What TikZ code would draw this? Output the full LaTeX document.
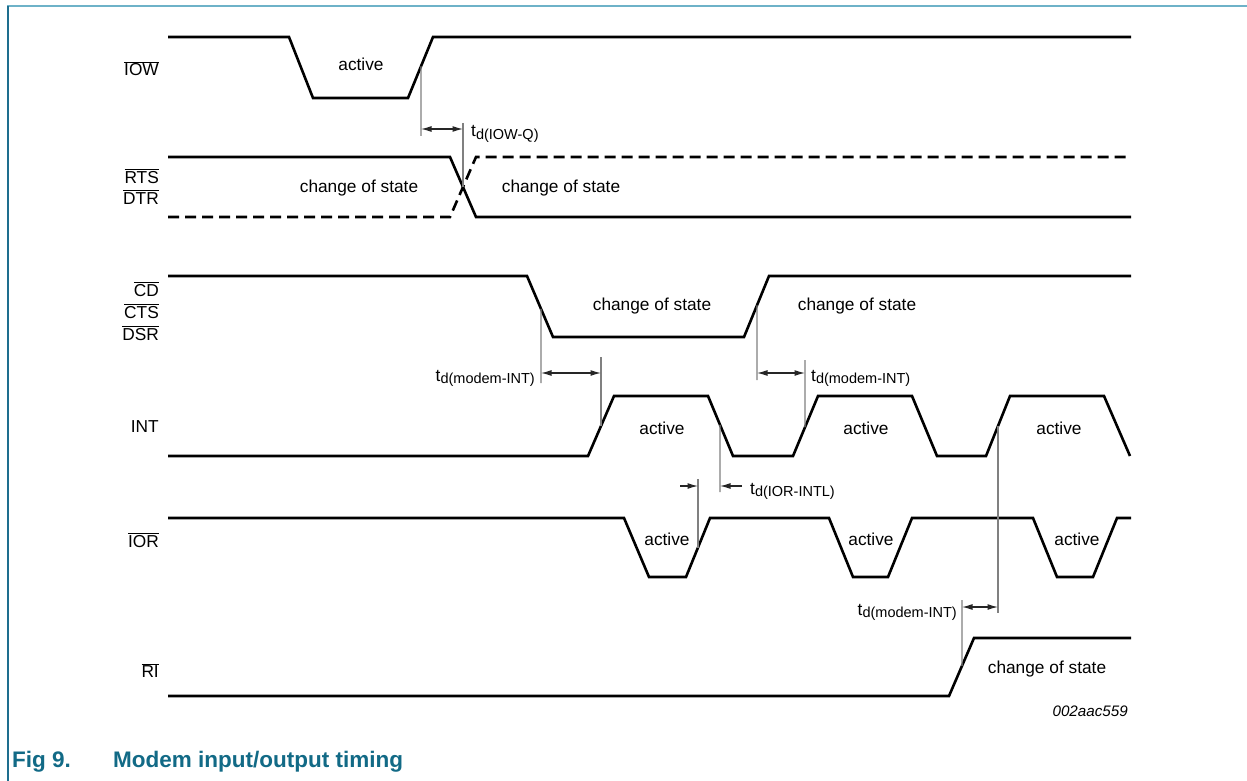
\documentclass[tikz,border=0pt]{standalone}
\usepackage{fontspec}
\setmainfont{Liberation Sans}
\usetikzlibrary{arrows.meta}
\definecolor{capteal}{RGB}{18,106,134}
\definecolor{framelight}{RGB}{110,178,200}
\definecolor{framedark}{RGB}{30,110,142}
\newcommand{\ovl}[1]{$\overline{\mbox{#1}}$}
\newcommand{\tdly}[1]{t\raisebox{-2.5pt}{\fontsize{14.5}{16}\selectfont d(#1)}}
\tikzset{
	wave/.style={line width=2.6pt},
	dwave/.style={wave, dash pattern=on 11pt off 6pt},
	tline/.style={line width=1.1pt, black!50},
	tarr/.style={line width=1.2pt, black!85, {Latex[length=10.5pt,width=6pt]}-{Latex[length=10.5pt,width=6pt]}},
	oarr/.style={line width=1.2pt, black!85, -{Latex[length=10.5pt,width=6pt]}},
	sig/.style={anchor=base east, inner sep=0pt, font=\fontsize{17.3}{20}\selectfont},
	txt/.style={anchor=base, inner sep=0pt, font=\fontsize{17.3}{20}\selectfont},
	tlab/.style={inner sep=0pt, font=\fontsize{17.3}{20}\selectfont}
}

\begin{document}
\begin{tikzpicture}[x=1pt,y=-1pt]
				%%%%% START %%%%%
				\useasboundingbox (0,0) rectangle (1247,781);
				\draw[framelight, line width=2pt] (7,6) -- (1247,6);
				\draw[framedark, line width=2pt] (7.5,6) -- (7.5,781);
				
				% signal names
				\node[sig] (iowlbl) at (159,76) {\ovl{IOW}};
				\node[sig] (rtslbl) at (159,183) {\ovl{RTS}};
				\node[sig] (dtrlbl) at (159,204) {\ovl{DTR}};
				\node[sig] (cdlbl) at (159,296) {\ovl{CD}};
				\node[sig] (ctslbl) at (159,318) {\ovl{CTS}};
				\node[sig] (dsrlbl) at (159,340) {\ovl{DSR}};
				\node[sig] (intlbl) at (159,432) {INT};
				\node[sig] (iorlbl) at (159,547) {\ovl{IOR}};
				\node[sig] (rilbl) at (159,677) {\ovl{RI}};
				
				% IOW
				\draw[wave] (168,37) -- (289,37) -- (313,98) -- (408,98)
					-- coordinate[pos=0.52] (iowup) (433,37) -- (1131,37);
				\node[txt] (iowact) at (361,71) {active};
				
				% RTS / DTR
				\draw[wave] (168,157) -- (450,157) -- (476,217) -- (1131,217);
				\draw[dwave] (168,217) -- (450,217) -- (476,157) -- (1131,157);
				\coordinate (rtsx) at (463,187);
				\node[txt] (rtscs1) at (359,192) {change of state};
				\node[txt] (rtscs2) at (561,192) {change of state};
				
				% CD / CTS / DSR
				\draw[wave] (168,276) -- (527,276) -- coordinate[pos=0.54] (cddn) (553,337)
					-- (744,337) -- coordinate[pos=0.52] (cdup) (769,276) -- (1131,276);
				\node[txt] (cdcs1) at (652,310) {change of state};
				\node[txt] (cdcs2) at (857,310) {change of state};
				
				% INT
				\draw[wave] (168,456) -- (588,456) -- coordinate[pos=0.5] (intup1) (614,396)
					-- (708,396) -- coordinate[pos=0.48] (intdn1) (733,456)
					-- (793,456) -- coordinate[pos=0.48] (intup2) (818,396)
					-- (912,396) -- (937,456) -- (986,456)
					-- coordinate[pos=0.5] (intup3) (1010,396) -- (1104,396) -- (1130,456);
				\node[txt] (intact1) at (662,434) {active};
				\node[txt] (intact2) at (866,434) {active};
				\node[txt] (intact3) at (1059,434) {active};
				
				% IOR
				\draw[wave] (168,518) -- (624,518) -- (649,577) -- (686,577)
					-- coordinate[pos=0.5] (iorup1) (710,518) -- (829,518) -- (853,577)
					-- (888,577) -- (912,518) -- (1033,518) -- (1057,577) -- (1093,577)
					-- (1117,518) -- (1131,518);
				\node[txt] (ioract1) at (667,545) {active};
				\node[txt] (ioract2) at (871,545) {active};
				\node[txt] (ioract3) at (1077,545) {active};
				
				% RI
				\draw[wave] (168,696) -- (949,696) -- coordinate[pos=0.52] (riup) (974,638) -- (1131,638);
				\node[txt] (rics) at (1047,673) {change of state};
				
				% td(IOW-Q)
				\coordinate (qa) at (421,136);
				\coordinate (qb) at (463,123);
				\coordinate (qal) at (421,129);
				\coordinate (qbl) at (463,129);
				\draw[tline] (iowup) -- (qa);
				\draw[tline] (qb) -- (rtsx);
				\draw[tarr] (qal) -- (qbl);
				\node[tlab, anchor=base west] (tdq) at (471,137) {\tdly{IOW-Q}};
				
				% td(modem-INT), first
				\coordinate (ma) at (541,383);
				\coordinate (mb) at (601,357);
				\coordinate (mal) at (541,373);
				\coordinate (mbl) at (601,373);
				\draw[tline] (cddn) -- (ma);
				\draw[tline] (mb) -- (intup1);
				\draw[tarr] (mal) -- (mbl);
				\node[tlab, anchor=base east] (tdm1) at (535,381) {\tdly{modem-INT}};
				
				% td(modem-INT), second
				\coordinate (na) at (757,380);
				\coordinate (nb) at (805,360);
				\coordinate (nal) at (757,373);
				\coordinate (nbl) at (805,373);
				\draw[tline] (cdup) -- (na);
				\draw[tline] (nb) -- (intup2);
				\draw[tarr] (nal) -- (nbl);
				\node[tlab, anchor=base west] (tdm2) at (811,381) {\tdly{modem-INT}};
				
				% td(IOR-INTL)
				\coordinate (ra) at (720,492);
				\coordinate (rb) at (698,479);
				\coordinate (ral) at (720,486);
				\coordinate (rbl) at (698,486);
				\coordinate (rao) at (742,486);
				\coordinate (rbo) at (680,486);
				\draw[tline] (intdn1) -- (ra);
				\draw[tline] (rb) -- (iorup1);
				\draw[oarr] (rao) -- (ral);
				\draw[oarr] (rbo) -- (rbl);
				\node[tlab, anchor=base west] (tdi) at (750,494) {\tdly{IOR-INTL}};
				
				% td(modem-INT), third
				\coordinate (sa) at (998,613);
				\coordinate (sb) at (962,600);
				\coordinate (sal) at (998,607);
				\coordinate (sbl) at (962,607);
				\draw[tline] (intup3) -- (sa);
				\draw[tline] (sb) -- (riup);
				\draw[tarr] (sbl) -- (sal);
				\node[tlab, anchor=base east] (tdm3) at (957,615) {\tdly{modem-INT}};
				
				% id and caption
				\node[inner sep=0pt, anchor=base east, font=\fontsize{15.2}{17}\selectfont\itshape] (figid) at (1128,716) {002aac559};
				\node[inner sep=0pt, anchor=base west, text=capteal, font=\fontsize{22.5}{26}\selectfont\bfseries] (fignum) at (12,767) {Fig 9.};
				\node[inner sep=0pt, anchor=base west, text=capteal, font=\fontsize{22.5}{26}\selectfont\bfseries] (figcap) at (113,767) {Modem input/output timing};
				%%%%% END %%%%%
\end{tikzpicture}
\end{document}
